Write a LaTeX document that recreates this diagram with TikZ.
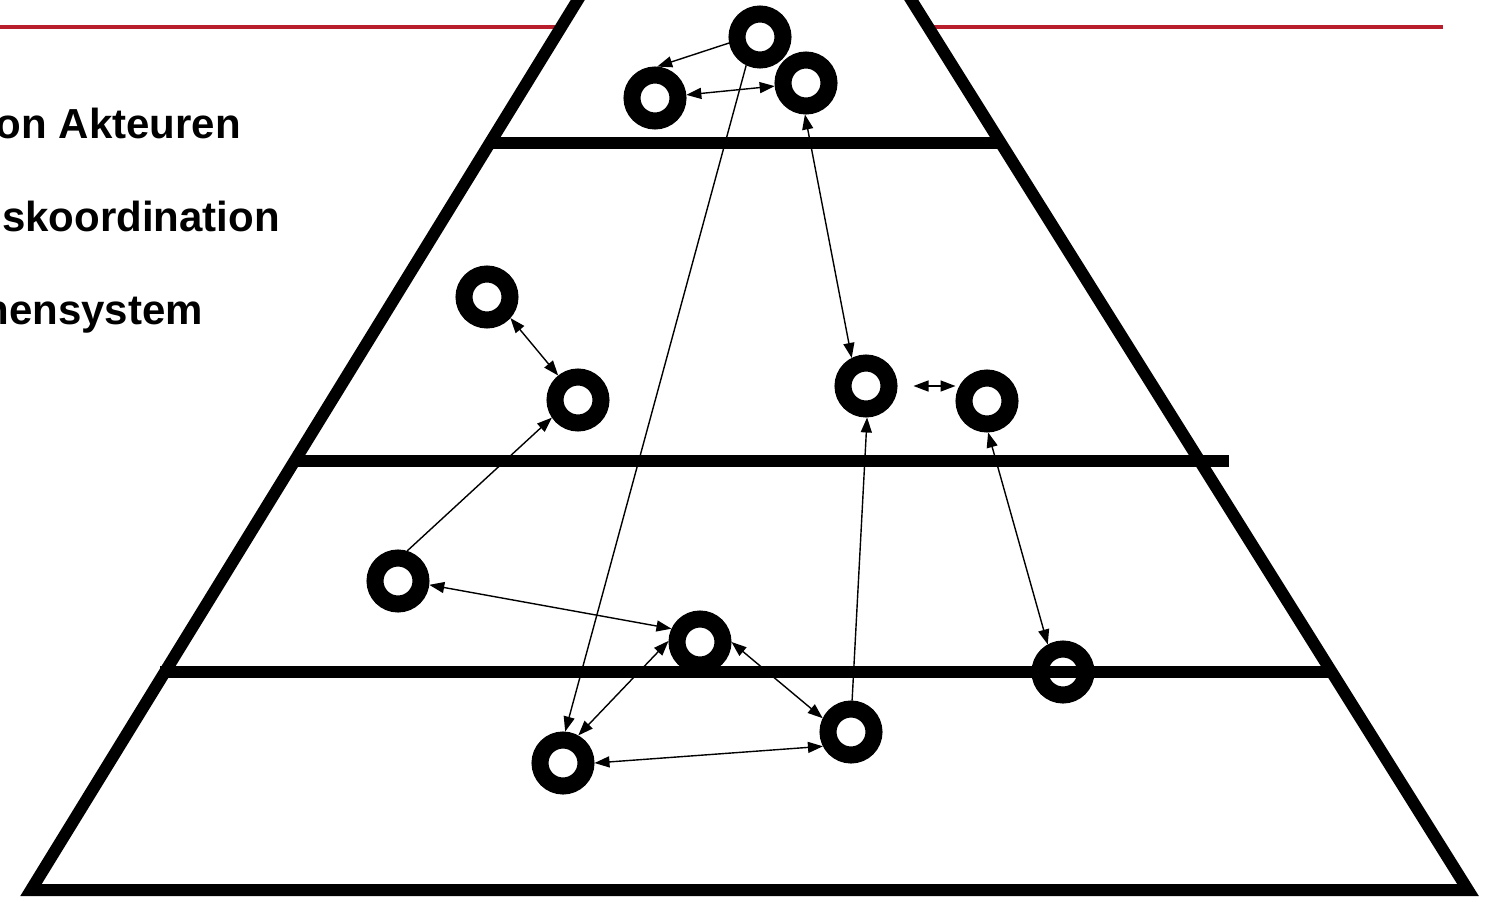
\documentclass[tikz,border=0pt]{standalone}
\usepackage{fontspec}
\setmainfont{Liberation Sans}
\usetikzlibrary{arrows.meta,shapes.geometric}
\definecolor{redline}{RGB}{185,30,45}
\begin{document}
\begin{tikzpicture}[x=1pt,y=-1pt,
  ring/.style={circle,draw,line width=17pt,minimum size=46pt,inner sep=0pt},
  con/.style={line width=1.4pt},
  one/.style={con,-{Triangle[length=15pt,width=11pt]}},
  two/.style={con,{Triangle[length=15pt,width=11pt]}-{Triangle[length=15pt,width=11pt]}},
  level/.style={line width=12pt},
  label/.style={anchor=base east,font=\bfseries\fontsize{42}{42}\selectfont,inner sep=0pt}]
\useasboundingbox (0,0) rectangle (1491,902);
\clip (0,0) rectangle (1491,902);
% red header rule
\draw[redline,line width=4.5pt] (0,27) -- (562,27);
\draw[redline,line width=4.5pt] (928,27) -- (1443,27);
% texts
\node[label] (t1) at (241,138) {on Akteuren};
\node[label] (t2) at (280,231) {skoordination};
\node[label] (t3) at (203,324) {hensystem};
% pyramid
\draw[level,line join=miter] (31,890) -- (743,-269) -- (1468,890) -- cycle;
\draw[level] (490,143) -- (1001,143);
\draw[level] (294,461) -- (1229,461);
\draw[level] (160,672) -- (1333,672);
% actors
\node[ring] (A) at (760,37) {};
\node[ring] (B) at (655,98) {};
\node[ring] (C) at (806,83) {};
\node[ring] (D) at (487,297) {};
\node[ring] (E) at (578,400) {};
\node[ring] (F) at (866,386) {};
\node[ring] (G) at (987,401) {};
\node[ring] (H) at (398,581) {};
\node[ring] (I) at (700,642) {};
\node[ring] (J) at (1063,672) {};
\node[ring] (K) at (563,763) {};
\node[ring] (L) at (851,732) {};
% connectors
\draw[one] (A.191) -- (B.86);
\draw[two] (B) -- (C);
\draw[one] (A.244) -- (K.86);
\draw[two] (C.268) -- (F.117);
\draw[two,shorten <=16pt] (F.east) -- (F.east -| G.west);
\draw[two] (D.318) -- (E.129);
\draw[one] (H.73) -- (E.214);
\draw[two] (H.353) -- (I.155);
\draw[two] (I.178) -- (K.61);
\draw[two] (I.0) -- (L.154);
\draw[two] (K.0) -- (L.207);
\draw[one] (L.88) -- (F.272);
\draw[two] (G.272) -- (J.119);
\end{tikzpicture}
\end{document}
